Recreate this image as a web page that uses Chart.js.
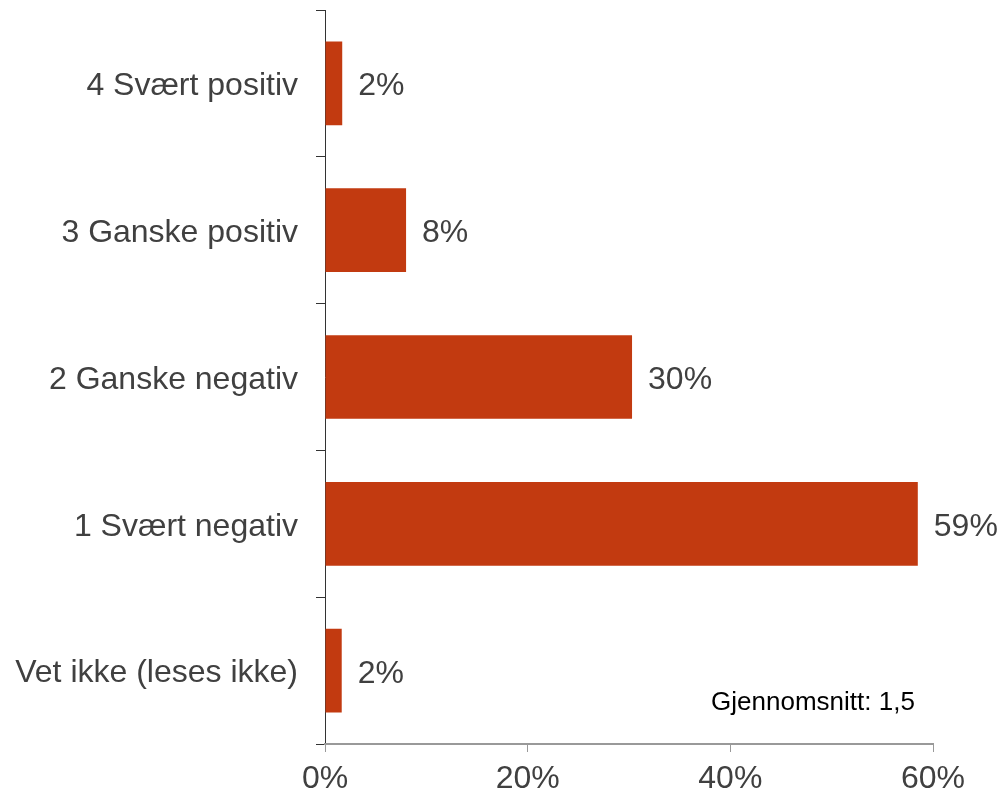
<!DOCTYPE html>
<html>
<head>
<meta charset="utf-8">
<script src="https://cdn.jsdelivr.net/npm/chart.js@4"></script>
<style>
html,body{margin:0;padding:0;background:#fff;}
#wrap{width:999px;height:796px;position:relative;}
</style>
</head>
<body>
<div id="wrap"><canvas id="c"></canvas></div>
<script>
const categories = ["4 Svært positiv", "3 Ganske positiv", "2 Ganske negativ", "1 Svært negativ", "Vet ikke (leses ikke)"];
const values = [1.7, 8.0, 30.3, 58.5, 1.65];
const valueLabels = ["2%", "8%", "30%", "59%", "2%"];
const xTicks = [0, 20, 40, 60];
const note = "Gjennomsnitt: 1,5";

const FONT = "'Liberation Sans', Arial, sans-serif";

const labelPlugin = {
  id: 'valueLabels',
  afterDatasetsDraw(chart) {
    const ctx = chart.ctx;
    const meta = chart.getDatasetMeta(0);
    ctx.save();
    ctx.font = "32px " + FONT;
    ctx.fillStyle = "#404040";
    ctx.textAlign = "left";
    ctx.textBaseline = "alphabetic";
    meta.data.forEach((bar, i) => {
      ctx.fillText(valueLabels[i], bar.x + 16, bar.y + 12);
    });
    const ca = chart.chartArea;
    ctx.font = "26px " + FONT;
    ctx.fillStyle = "#000";
    ctx.textAlign = "center";
    ctx.textBaseline = "middle";
    ctx.fillText(note, ca.right - 120, ca.bottom - 41);
    ctx.restore();
  }
};

new Chart(document.getElementById('c'), {
  type: 'bar',
  data: {
    labels: categories,
    datasets: [{
      data: values,
      backgroundColor: '#C23A10',
      borderWidth: 0,
      categoryPercentage: 1,
      barPercentage: 0.57
    }]
  },
  options: {
    indexAxis: 'y',
    responsive: true,
    maintainAspectRatio: false,
    animation: false,
    layout: { padding: { top: 10, right: 66, left: 0, bottom: 0 } },
    plugins: { legend: { display: false }, tooltip: { enabled: false } },
    scales: {
      y: {
        afterFit(s) { s.width = 325; s.paddingTop = 0; s.paddingBottom = 0; },
        grid: { drawOnChartArea: false, drawTicks: true, tickLength: 9, color: '#333', offset: true },
        border: { color: '#333', width: 1 },
        ticks: { font: { family: FONT, size: 32 }, color: '#404040', padding: 18, labelOffset: 3 }
      },
      x: {
        min: 0, max: 60,
        afterBuildTicks(s) { s.ticks = xTicks.map(v => ({ value: v })); },
        afterFit(s) { s.height = 52; s.paddingLeft = 0; s.paddingRight = 0; },
        grid: { drawOnChartArea: false, drawTicks: true, tickLength: 8, color: '#999' },
        border: { color: '#999', width: 2 },
        ticks: { font: { family: FONT, size: 32 }, color: '#404040', padding: 8, callback: v => v + '%' }
      }
    }
  },
  plugins: [labelPlugin]
});
</script>
</body>
</html>
